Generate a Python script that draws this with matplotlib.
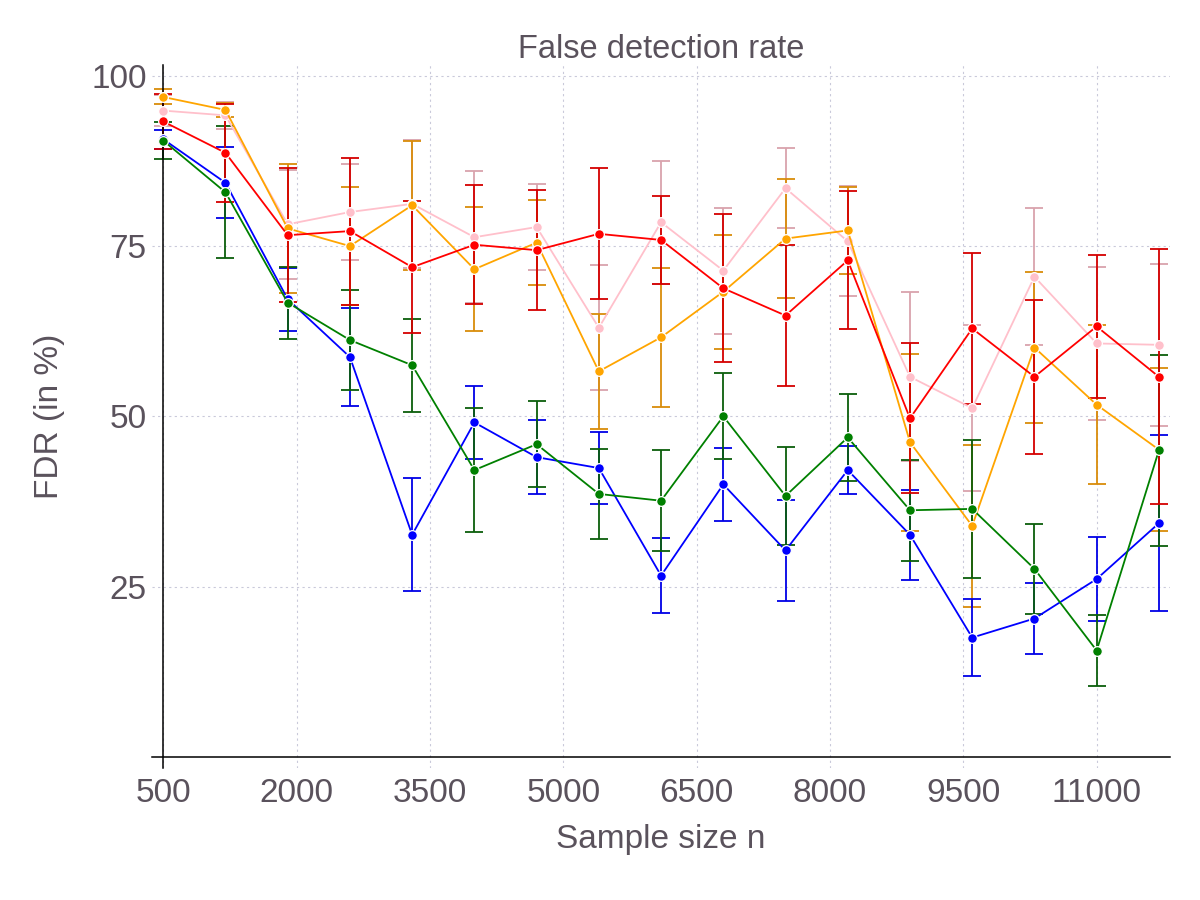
import matplotlib
matplotlib.use("Agg")
import matplotlib.pyplot as plt

plt.rcParams['font.family'] = ['Liberation Sans', 'DejaVu Sans']

sample_sizes = [500, 1200, 1900, 2600, 3300, 4000, 4700, 5400, 6100, 6800,
                7500, 8200, 8900, 9600, 10300, 11000, 11700]

pink_mean = [94.9, 94.2, 78.2, 80.0, 81.2, 76.3, 77.8, 63.0, 78.5, 71.4, 83.5, 75.7, 55.8, 51.2, 70.5, 60.7, 60.5]
pink_err = [2.3, 2.0, 8.0, 7.0, 9.4, 9.7, 6.3, 9.2, 9.0, 9.25, 5.9, 8.1, 12.4, 12.2, 10.1, 11.2, 11.9]

orange_mean = [96.9, 95.0, 77.6, 75.0, 81.0, 71.6, 75.5, 56.6, 61.6, 68.3, 76.1, 77.3, 46.2, 33.9, 60.1, 51.7, 45.1]
orange_err = [1.1, 1.0, 9.5, 8.7, 9.5, 9.1, 6.25, 8.45, 10.2, 8.4, 8.75, 6.4, 13.0, 11.9, 11.1, 11.7, 12.0]

blue_mean = [90.7, 84.3, 67.2, 58.7, 32.6, 49.1, 44.0, 42.4, 26.6, 40.0, 30.3, 42.1, 32.6, 17.5, 20.3, 26.1, 34.3]
blue_err = [1.4, 5.2, 4.6, 7.2, 8.3, 5.3, 5.4, 5.25, 5.5, 5.4, 7.4, 3.5, 6.6, 5.65, 5.2, 6.2, 12.9]

green_mean = [90.5, 82.9, 66.7, 61.2, 57.5, 42.1, 45.9, 38.6, 37.6, 50.0, 38.3, 46.9, 36.2, 36.4, 27.6, 15.6, 45.0]
green_err = [2.7, 9.7, 5.3, 7.3, 6.8, 9.1, 6.3, 6.6, 7.4, 6.3, 7.2, 6.4, 7.4, 10.1, 6.6, 5.15, 14.0]

red_mean = [93.3, 88.7, 76.6, 77.2, 71.9, 75.2, 74.4, 76.8, 75.9, 68.8, 64.8, 72.9, 49.7, 62.9, 55.8, 63.2, 55.8]
red_err = [4.0, 7.2, 9.8, 10.8, 9.7, 8.7, 8.85, 9.6, 6.5, 10.85, 10.35, 10.15, 11.0, 11.1, 11.3, 10.45, 18.7]

x_ticks = [500, 2000, 3500, 5000, 6500, 8000, 9500, 11000]
y_ticks = [25, 50, 75, 100]

series = [
    (pink_mean, pink_err, "pink", "#d9a3ad"),
    (orange_mean, orange_err, "orange", "#d98c0a"),
    (blue_mean, blue_err, "blue", "#0000e6"),
    (green_mean, green_err, "green", "#0b5e0b"),
    (red_mean, red_err, "red", "#d40000"),
]

text_color = "#5a525c"

fig = plt.figure(figsize=(12, 9), dpi=100)
ax = fig.add_axes([0.1264, 0.1467, 0.975 - 0.1264, 0.9278 - 0.1467])

for mean, err, col, ecol in series:
    ax.errorbar(sample_sizes, mean, yerr=err, fmt='none', ecolor=ecol,
                elinewidth=1.3, capsize=6.2, capthick=1.3, zorder=2)
    ax.plot(sample_sizes, mean, color=col, lw=1.3, marker='o', markersize=7,
            markeredgecolor='white', markeredgewidth=0.9, zorder=3)

ax.set_xlim(370, 11825)
ax.set_ylim(-1.65, 101.6)
ax.set_xticks(x_ticks)
ax.set_yticks(y_ticks)
ax.set_xticklabels([str(v) for v in x_ticks])
ax.set_yticklabels([str(v) for v in y_ticks])

ax.grid(True, linestyle=(0, (2, 3)), color="#c9c9da", linewidth=0.8, zorder=0)
ax.set_axisbelow(True)

for s in ['top', 'right']:
    ax.spines[s].set_visible(False)
ax.spines['left'].set_position(('data', 500))
ax.spines['bottom'].set_position(('data', 0))
ax.spines['left'].set_linewidth(1.1)
ax.spines['bottom'].set_linewidth(1.1)

ax.tick_params(axis='x', length=0, pad=15, labelsize=24, labelcolor=text_color)
ax.tick_params(axis='y', length=0, pad=12, labelsize=24, labelcolor=text_color)

ax.set_title("False detection rate", fontsize=23.5, color=text_color, pad=5)
ax.set_xlabel("Sample size n", fontsize=24, color=text_color, labelpad=11)
ax.set_ylabel("FDR (in %)", fontsize=24, color=text_color, labelpad=19)

fig.savefig("out.png", dpi=100)
